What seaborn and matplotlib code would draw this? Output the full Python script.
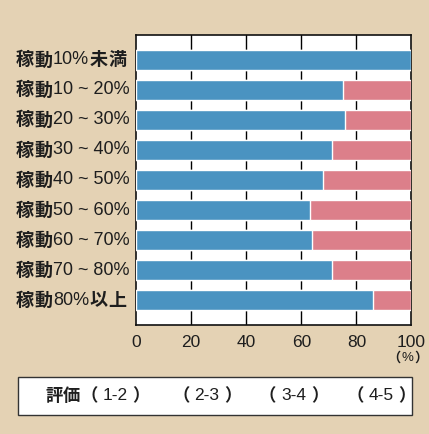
import re
import matplotlib
matplotlib.use("Agg")
import matplotlib.pyplot as plt
import matplotlib.transforms as mtransforms
from matplotlib.patches import Rectangle
import seaborn as sns
import pandas as pd

# --- data ---
categories = ["稼動10%未満", "稼動10 ~ 20%", "稼動20 ~ 30%", "稼動30 ~ 40%", "稼動40 ~ 50%",
              "稼動50 ~ 60%", "稼動60 ~ 70%", "稼動70 ~ 80%", "稼動80%以上"]
share_blue = [100, 75, 76, 71, 68, 63, 64, 71, 86]
share_pink = [0, 25, 24, 29, 32, 37, 36, 29, 14]
x_ticks = [0, 20, 40, 60, 80, 100]
unit_label = "（%）"
legend_title = "評価"
legend_items = ["（1-2）", "（2-3）", "（3-4）", "（4-5）"]

BG = "#E4D2B4"
BLUE = "#4A93C1"
PINK = "#DC7F8A"
INK = "#1E1E1E"
W, H = 429, 434

sns.set_theme(style="white")
plt.rcParams["font.family"] = ["Liberation Sans", "Noto Sans CJK JP", "DejaVu Sans"]

df = pd.DataFrame({"cat": categories, "blue": share_blue, "pink": share_pink})
df["total"] = df["blue"] + df["pink"]

fig = plt.figure(figsize=(W / 100, H / 100), dpi=100, facecolor=BG)
ax = fig.add_axes([136 / W, 1 - 325 / H, (411.5 - 136) / W, (325 - 35.3) / H])
ax.set_facecolor("white")

sns.barplot(data=df, x="total", y="cat", orient="h", color=PINK, width=0.667,
            saturation=1, ax=ax, zorder=3)
sns.barplot(data=df, x="blue", y="cat", orient="h", color=BLUE, width=0.667,
            saturation=1, ax=ax, zorder=4)

ax.set_xlim(0, 100)
ax.set_ylim(8.83, -0.82)
ax.set_xticks(x_ticks)
ax.set_xticklabels([str(v) for v in x_ticks], fontsize=12.5, color=INK)
ax.tick_params(axis="x", length=0, pad=7)
ax.set_yticks(range(len(categories)))
ax.set_yticklabels([])
ax.tick_params(axis="y", length=0)
ax.set_xlabel("")
ax.set_ylabel("")
for v in x_ticks[1:-1]:
    ax.axvline(v, color="black", lw=1.0, zorder=2)
for s in ax.spines.values():
    s.set_visible(True)
    s.set_color("#111111")
    s.set_linewidth(1.2)

# mixed-script text: CJK runs (kanji, full-width signs) in bold Noto Sans CJK,
# digits and ASCII signs in a plain sans, laid out run after run
renderer = fig.canvas.get_renderer()
CJK = "\u4e00-\u9fff\uff00-\uffef"
runs = re.compile(rf"[{CJK}]|[^{CJK}]+")


def draw_runs(text, x_px, y, transform, size, gap=0):
    x = x_px
    for seg in runs.findall(text):
        is_cjk = bool(re.match(rf"[{CJK}]", seg))
        t = fig.text(x / W, y, seg, transform=transform, va="center", ha="left",
                     fontsize=size, color=INK,
                     fontweight="bold" if is_cjk else "normal",
                     family=["Noto Sans CJK JP"] if is_cjk else ["Liberation Sans"])
        x += t.get_window_extent(renderer).width + gap


trans = mtransforms.blended_transform_factory(fig.transFigure, ax.transData)
for i, label in enumerate(categories):
    draw_runs(label, 16, i, trans, 13, gap=0.5)

draw_runs(unit_label, 387, 1 - 358 / H, fig.transFigure, 9.5, gap=1)

# legend strip
fig.patches.append(Rectangle((18 / W, 1 - 415 / H), (412 - 18) / W, (415 - 377) / H,
                             transform=fig.transFigure, facecolor="white",
                             edgecolor="#333333", lw=1.0))
ytxt = 1 - 396 / H
draw_runs(legend_title, 45, ytxt, fig.transFigure, 12.5)
for xp, item in zip([80, 172, 259, 346], legend_items):
    draw_runs(item, xp, ytxt, fig.transFigure, 12.5, gap=5)

fig.savefig("out.png", dpi=100, facecolor=BG)
